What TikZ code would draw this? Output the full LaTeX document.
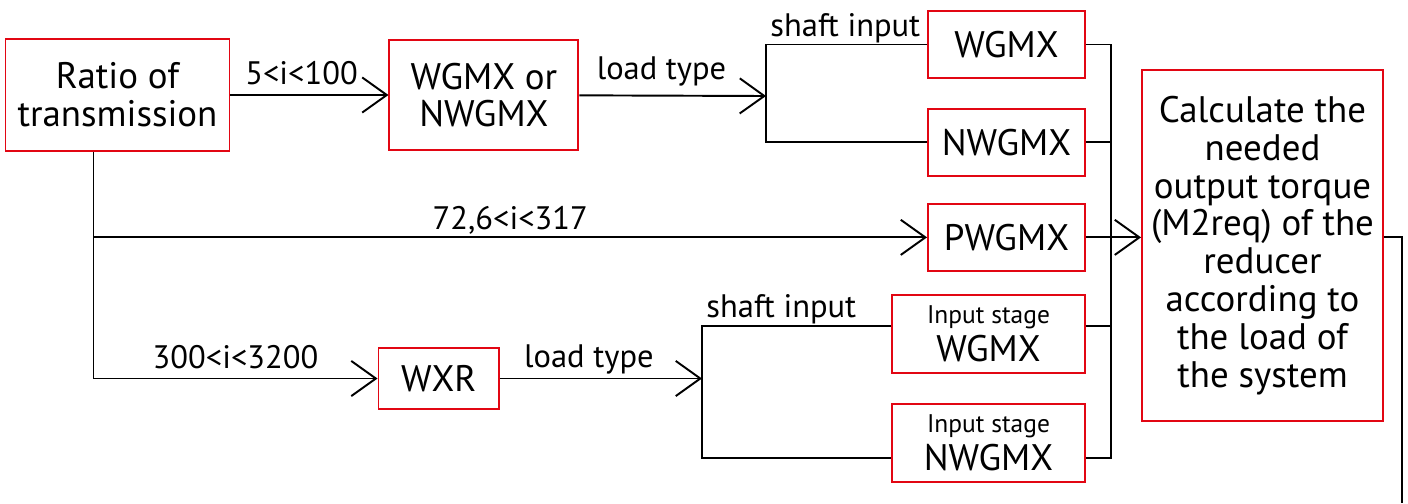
\documentclass[tikz,border=0pt]{standalone}
\usepackage{fontspec}
\setmainfont{PT Sans}
\usetikzlibrary{arrows.meta, positioning}
\definecolor{boxred}{RGB}{226,6,19}

\begin{document}
\begin{tikzpicture}[
    node distance=0.58cm and 3.16cm,
    box/.style={
        rectangle,
        draw=boxred,
        line width=1.1pt,
        align=center,
        inner sep=2pt,
        font=\fontsize{21}{21.5}\selectfont
    },
    typebox/.style={box, minimum width=3.14cm, minimum height=1.34cm},
    stagebox/.style={box, minimum width=3.86cm, minimum height=1.56cm},
    wire/.style={line width=1.1pt},
    arrow/.style={wire, -{Straight Barb[length=14pt, width=20pt]}},
    lbl/.style={font=\fontsize{18.5}{19}\selectfont, anchor=base, inner sep=0pt}
]
\useasboundingbox (0,0) rectangle (28.16,-10.06);

\node[box, minimum width=4.48cm, minimum height=2.24cm] (ratio) at (2.35,-1.90) {Ratio of\\transmission};
\node[box, minimum width=3.78cm, minimum height=2.2cm, right=of ratio] (choice) {WGMX or\\NWGMX};

\node[typebox] (wgmx) at (20.13,-0.89) {WGMX};
\node[typebox, below=of wgmx] (nwgmx) {NWGMX};
\node[typebox, below=0.52cm of nwgmx] (pwgmx) {PWGMX};

\node[box, minimum width=2.41cm, minimum height=1.22cm] (wxr) at (8.775,-7.57) {WXR};
\node[stagebox] (swgmx) at (19.77,-6.68) {{\fontsize{14.5}{16}\selectfont Input stage}\\WGMX};
\node[stagebox, below=of swgmx] (snwgmx) {{\fontsize{14.5}{16}\selectfont Input stage}\\NWGMX};

\node[box, minimum width=4.82cm, minimum height=7.02cm] (calc) at (25.25,-4.91) {Calculate the\\needed\\output torque\\(M2req) of the\\reducer\\according to\\the load of\\the system};

\coordinate (drop) at ([xshift=-0.48cm]ratio.south);
\coordinate (split1) at (15.32,-1.92);
\coordinate (split2) at (14.04,-7.57);
\coordinate (coll) at (22.22,0);
\coordinate (sw-in) at ([yshift=0.16cm]swgmx.west);
\coordinate (sw-out) at ([yshift=0.16cm]swgmx.east);
\coordinate (snw-in) at ([yshift=-0.3cm]snwgmx.west);
\coordinate (snw-out) at ([yshift=-0.3cm]snwgmx.east);
\coordinate (exit) at (28.04,-10.06);

\draw[arrow] (ratio) -- node[lbl, pos=0.45, yshift=0.22cm] {5<i<100} (choice);
\draw[arrow] (choice) -- node[lbl, pos=0.44, yshift=0.32cm] {load type} (split1);
\draw[wire] (wgmx.west) -| node[pos=0.5, lbl, anchor=base west, xshift=2pt, yshift=0.17cm] {shaft input} (split1) |- (nwgmx.west);

\draw[arrow] (drop |- pwgmx.west) -- node[lbl, yshift=0.15cm] {72,6<i<317} (pwgmx.west);
\draw[arrow] (drop) |- node[lbl, pos=0.75, yshift=0.2cm] {300<i<3200} (wxr.west);
\draw[arrow] (wxr) -- node[lbl, pos=0.44, yshift=0.22cm] {load type} (split2);
\draw[wire] (sw-in) -| node[pos=0.5, lbl, anchor=base west, xshift=2pt, yshift=0.17cm] {shaft input} (split2) |- (snw-in);

\draw[wire] (wgmx.east) -| (coll |- snw-out) -- (snw-out);
\draw[wire] (nwgmx.east) -- (nwgmx.east -| coll);
\draw[wire] (sw-out) -- (sw-out -| coll);
\draw[arrow] (pwgmx.east) -- (pwgmx.east -| calc.west);
\draw[wire] (pwgmx.east -| calc.east) -| (exit);

\end{tikzpicture}
\end{document}
